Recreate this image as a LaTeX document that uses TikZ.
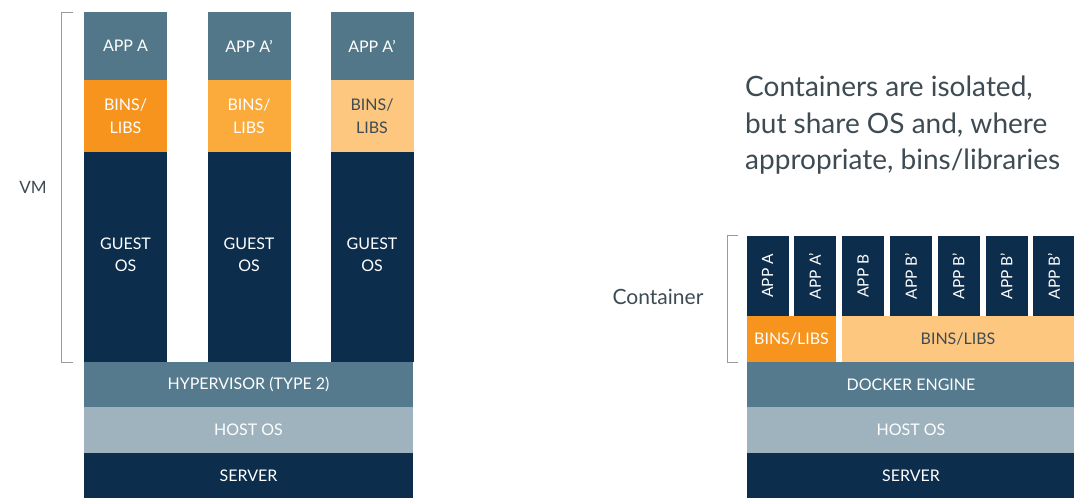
\documentclass[tikz,border=0pt]{standalone}
\usepackage{fontspec}
\setmainfont{Lato}
\definecolor{slate}{HTML}{527789}
\definecolor{navy}{HTML}{0C2D4C}
\definecolor{orangeA}{HTML}{F7941D}
\definecolor{orangeB}{HTML}{FBAA3C}
\definecolor{orangeC}{HTML}{FDC77F}
\definecolor{hostgray}{HTML}{9FB3BE}
\definecolor{hyp}{HTML}{557A8D}
\definecolor{labelgray}{HTML}{3E4B53}
\definecolor{brack}{HTML}{9A9A9A}
\tikzset{
  blk/.style={rectangle, inner sep=0pt, outer sep=0pt, draw=none, align=center, text=white, font=\fontsize{16}{22.5}\selectfont},
  vtext/.style={rectangle, inner sep=0pt, text=white, font=\fontsize{15.5}{17}\selectfont, rotate=90},
  brk/.style={draw=brack, line width=0.8pt},
  lbl/.style={text=labelgray, inner sep=0pt}
}
\begin{document}
\begin{tikzpicture}[x=1pt,y=-1pt]
\useasboundingbox (0,0) rectangle (1074,498);
\fill[white] (0,0) rectangle (1074,498);
% ---- VM side ----
\foreach \cx/\bc/\tc/\an [count=\i] in {125.5/orangeA/white/APP A,249/orangeB/white/APP A',372/orangeC/labelgray/APP A'}{
  \node[blk, fill=slate, minimum width=83, minimum height=68] (app\i) at (\cx,46) {\an};
  \node[blk, fill=\bc, text=\tc, minimum width=83, minimum height=72] (bins\i) at (\cx,116) {BINS/\\LIBS};
  \node[blk, fill=navy, minimum width=83, minimum height=210] (guest\i) at (\cx,257) {};
  \node[blk] (guestt\i) at (\cx,255) {GUEST\\OS};
}
\node[blk, fill=hyp, minimum width=329, minimum height=45] (hyper) at (248.5,384.5) {HYPERVISOR (TYPE 2)};
\node[blk, fill=hostgray, minimum width=329, minimum height=46] (hostL) at (248.5,430) {HOST OS};
\node[blk, fill=navy, minimum width=329, minimum height=45] (serverL) at (248.5,475.5) {SERVER};
\coordinate (vb1) at (73,12);
\coordinate (vb2) at (73,362);
\draw[brk] (vb1) -- (61,12) -- (61,362) -- (vb2);
\node[lbl, font=\fontsize{17}{20}\selectfont] (vm) at (33,187) {VM};
% ---- Container side ----
\foreach \cx/\an [count=\i] in {767.5/APP A,815/APP A',863/APP B,911/APP B',958.5/APP B',1006.5/APP B',1054/APP B'}{
  \node[blk, fill=navy, minimum width=42, minimum height=80] (capp\i) at (\cx,276) {};
  \node[vtext] at (capp\i.center) {\an};
}
\node[blk, fill=orangeA, minimum width=89, minimum height=46] (cbinsA) at (791.5,339) {BINS/LIBS};
\node[blk, fill=orangeC, text=labelgray, minimum width=232, minimum height=46] (cbinsB) at (958,339) {BINS/LIBS};
\node[blk, fill=hyp, minimum width=328, minimum height=45] (docker) at (911,384.5) {DOCKER ENGINE};
\node[blk, fill=hostgray, minimum width=328, minimum height=46] (hostR) at (911,430) {HOST OS};
\node[blk, fill=navy, minimum width=328, minimum height=45] (serverR) at (911,475.5) {SERVER};
\coordinate (cb1) at (738,235);
\coordinate (cb2) at (738,362);
\draw[brk] (cb1) -- (727,235) -- (727,362) -- (cb2);
\node[lbl, font=\fontsize{21}{24}\selectfont] (cont) at (658,297) {Container};
\node[lbl, anchor=base west, font=\fontsize{28}{30}\selectfont] (h1) at (745,96) {Containers are isolated,};
\node[lbl, anchor=base west, font=\fontsize{28}{30}\selectfont] (h2) at (745,133) {but share OS and, where};
\node[lbl, anchor=base west, font=\fontsize{28}{30}\selectfont] (h3) at (745,169) {appropriate, bins/libraries};
\end{tikzpicture}
\end{document}
